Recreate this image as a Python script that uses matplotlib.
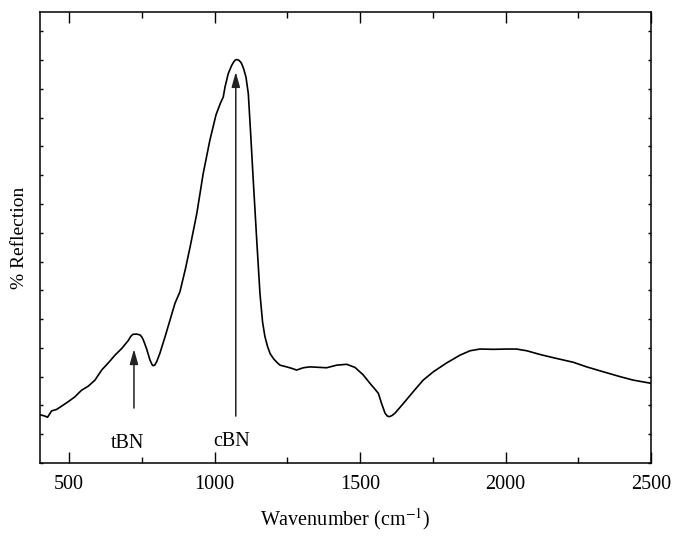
import matplotlib
matplotlib.use("Agg")
import matplotlib.pyplot as plt
from matplotlib.ticker import MultipleLocator

# reflection spectrum (arbitrary units)
wavenumber = [403, 417, 426, 440, 457, 475, 497, 520, 543, 566, 589, 612, 635,
              658, 681, 703, 712, 719, 732, 744, 750, 755, 761, 767, 778, 785,
              789, 795, 801, 812, 830, 847, 864, 881, 900, 916, 939, 961, 984,
              1005, 1020, 1030, 1036, 1047, 1059, 1066, 1071, 1076, 1083, 1089,
              1093, 1100, 1108, 1116, 1124, 1133, 1145, 1156, 1165, 1173, 1182,
              1191, 1203, 1214, 1225, 1248, 1265, 1282, 1305, 1328, 1385, 1420,
              1454, 1483, 1511, 1534, 1551, 1563, 1574, 1586, 1594, 1601, 1610,
              1620, 1649, 1683, 1717, 1752, 1798, 1844, 1878, 1912, 1958, 2004,
              2038, 2073, 2119, 2164, 2233, 2279, 2336, 2394, 2439, 2500]
reflection = [1.67, 1.63, 1.59, 1.81, 1.86, 1.98, 2.13, 2.30, 2.53, 2.67, 2.88,
              3.23, 3.48, 3.75, 3.98, 4.25, 4.40, 4.47, 4.48, 4.45, 4.38, 4.28,
              4.12, 3.95, 3.58, 3.42, 3.38, 3.41, 3.52, 3.81, 4.39, 4.97, 5.55,
              5.95, 6.75, 7.51, 8.67, 10.06, 11.22, 12.10, 12.50, 12.72, 13.07,
              13.53, 13.82, 13.94, 14.00, 14.02, 14.00, 13.94, 13.88, 13.70,
              13.41, 12.84, 11.46, 9.83, 7.74, 5.90, 4.90, 4.40, 4.05, 3.80,
              3.62, 3.50, 3.40, 3.34, 3.29, 3.23, 3.31, 3.34, 3.31, 3.40, 3.43,
              3.32, 3.06, 2.77, 2.57, 2.42, 2.07, 1.73, 1.63, 1.61, 1.65, 1.73,
              2.07, 2.48, 2.88, 3.17, 3.48, 3.75, 3.90, 3.96, 3.95, 3.96, 3.96,
              3.90, 3.77, 3.66, 3.50, 3.34, 3.17, 3.00, 2.88, 2.77]

# peak markers
peak_labels = ["tBN", "cBN"]
peak_x = [723, 1073]
arrow_tail = [1.91, 1.63]
arrow_tip = [3.96, 13.59]
label_x = [700, 1057]
label_y = [0.69, 0.74]

plt.rcParams["font.family"] = ["Liberation Serif", "DejaVu Serif"]
plt.rcParams["mathtext.fontset"] = "stix"

fig = plt.figure(figsize=(6.73, 5.36), dpi=100)
ax = fig.add_axes([0.0594, 0.1362, 0.9079, 0.8418])

ax.plot(wavenumber, reflection, color="black", lw=1.2)

for lab, x, y0, y1, lx, ly in zip(peak_labels, peak_x, arrow_tail, arrow_tip,
                                  label_x, label_y):
    ax.annotate("", xy=(x, y1), xytext=(x, y0),
                arrowprops=dict(arrowstyle="-|>,head_length=0.9,head_width=0.25",
                                color="#222222", lw=1.1, shrinkA=0, shrinkB=0))
    ax.text(lx, ly, lab, ha="center", va="center", fontsize=14.5)

ax.set_xlim(400, 2500)
ax.set_ylim(0, 15.68)
ax.xaxis.set_major_locator(MultipleLocator(500))
ax.xaxis.set_minor_locator(MultipleLocator(250))
ax.yaxis.set_major_locator(MultipleLocator(1))
ax.set_yticklabels([])
ax.tick_params(axis="x", which="major", direction="in", length=8, width=1,
               top=True, labelsize=14.5, pad=9)
ax.tick_params(axis="x", which="minor", direction="in", length=4, width=1,
               top=True)
ax.tick_params(axis="y", which="major", direction="in", length=2.5, width=1,
               right=True)
for s in ax.spines.values():
    s.set_linewidth(1.1)

ax.set_xlabel("Wavenumber (cm$^{-1}$)", fontsize=14.5, labelpad=8)
ax.set_ylabel("% Reflection", fontsize=14, labelpad=5)

fig.savefig("out.png", dpi=100)
